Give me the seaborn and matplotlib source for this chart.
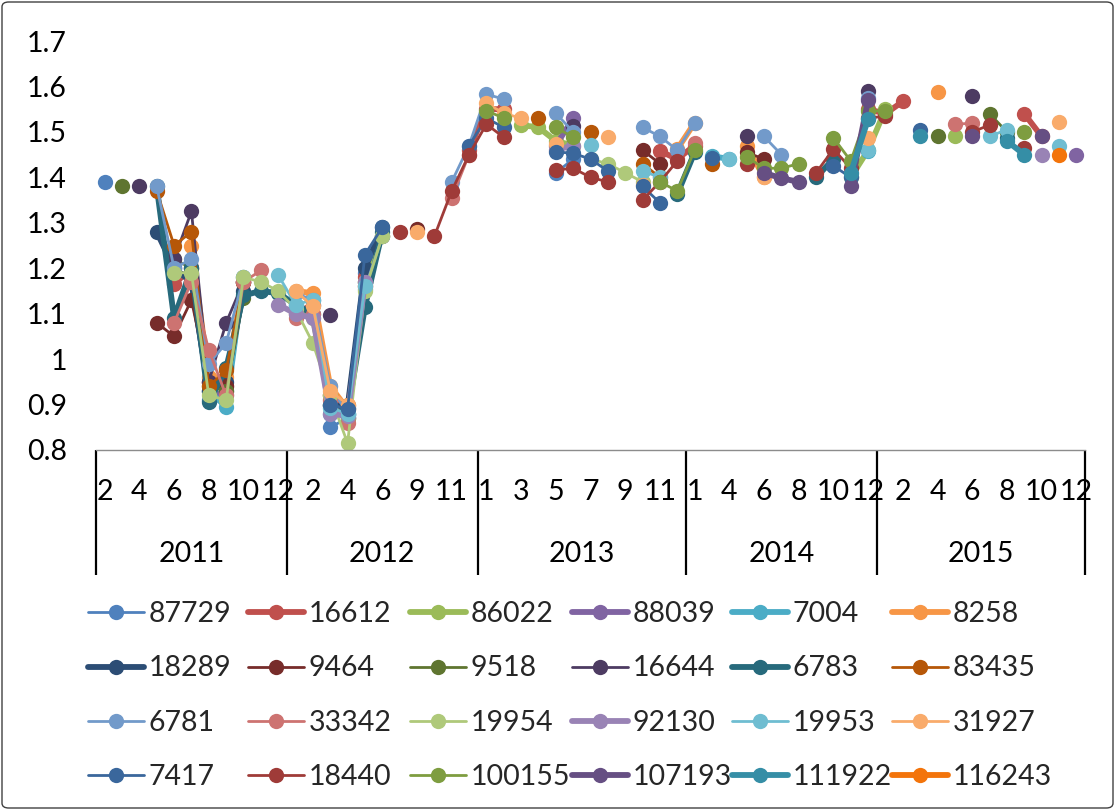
import numpy as np
import pandas as pd
import matplotlib
matplotlib.use("Agg")
import matplotlib.pyplot as plt
import seaborn as sns
import colorsys
from matplotlib.lines import Line2D
from matplotlib.patches import FancyBboxPatch
import matplotlib.colors as mcolors

_ = np.nan

# ---------------- category axis ----------------
years = [2011, 2012, 2013, 2014, 2015]
months_2011 = [2, 3, 4, 5, 6, 7, 8, 9, 10, 11, 12]
months_2012 = [1, 2, 3, 4, 5, 6, 7, 9, 10, 11, 12]
months_2013 = [1, 2, 3, 4, 5, 6, 7, 8, 9, 10, 11, 12]
months_2014 = [1, 3, 4, 5, 6, 7, 8, 9, 10, 11, 12]
months_2015 = [1, 2, 3, 4, 5, 6, 7, 8, 9, 10, 11, 12]
months_by_year = [months_2011, months_2012, months_2013, months_2014, months_2015]

# ---------------- series values (per year blocks) ----------------
s_87729 = ([1.39, _, _, _, _, 1.18, 0.91, 0.93, 1.17, _, _]
           + [_, 1.12, 0.85, 0.87, 1.19, _, _, _, _, _, _]
           + [_, _, _, _, 1.41, 1.44, _, _, _, _, _, _]
           + [_] * 11 + [_] * 12)
s_16612 = ([_, _, _, _, 1.165, 1.20, 0.95, 0.94, 1.17, _, _]
           + [1.10, 1.12, 0.92, 0.87, 1.18, 1.27, _, _, _, _, 1.46]
           + [1.55, 1.55, _, _, _, _, _, _, _, _, 1.458, 1.44]
           + [1.47, _, _, _, _, _, _, _, _, _, 1.55]
           + [1.54, 1.567, _, _, _, _, _, _, 1.54, 1.49, _, _])
s_86022 = ([_] * 11
           + [1.11, 1.09, 0.90, 0.87, 1.17, 1.27, _, _, _, _, _]
           + [_, _, 1.515, 1.51, 1.48, 1.47, _, _, _, _, _, _]
           + [_, _, _, _, _, _, _, _, _, 1.40, 1.46]
           + [1.55, _, _, _, 1.49, _, _, _, _, _, _, _])
s_88039 = ([_, _, _, _, 1.20, 1.17, 0.93, 0.92, 1.17, _, _]
           + [_] * 11
           + [_, _, _, _, 1.47, 1.53, _, _, _, _, _, _]
           + [_] * 11
           + [_] * 11 + [1.45])
s_7004 = ([_, _, _, _, _, _, 0.93, 0.895, 1.18, _, _]
          + [_, 1.13, 0.88, 0.88, 1.17, _, _, _, _, _, _]
          + [_] * 12
          + [_, 1.447, 1.44, _, _, _, _, _, _, _, 1.458]
          + [_] * 12)
s_8258 = ([_, _, _, _, _, 1.25, 0.96, 0.96, 1.17, _, _]
          + [1.15, 1.145, 0.94, 0.89, 1.17, _, _, _, _, _, _]
          + [_] * 11 + [1.462]
          + [1.52, _, _, 1.47, 1.40, _, _, _, _, _, _]
          + [_, _, _, 1.587, _, _, _, _, _, _, _, _])
s_18289 = ([_, _, _, 1.28, 1.20, 1.17, 0.93, 0.95, 1.15, _, _]
           + [_, _, 0.90, 0.893, 1.20, 1.29, _, _, _, _, _]
           + [_] * 12 + [_] * 11 + [_] * 12)
s_9464 = ([_, _, _, 1.08, 1.05, 1.13, 0.95, 0.94, _, _, _]
          + [_, _, _, _, _, _, _, 1.287, _, _, _]
          + [_, _, _, _, _, _, _, _, _, 1.46, 1.43, _]
          + [_, _, _, 1.455, 1.44, _, _, _, _, _, _]
          + [_] * 12)
s_9518 = ([_, 1.38, _, _, 1.22, 1.20, 0.94, 0.93, 1.135, _, _]
          + [_] * 11 + [_] * 12 + [_] * 11
          + [_, _, _, 1.49, _, _, 1.54, 1.50, _, _, _, _])
s_16644 = ([_, _, 1.38, _, 1.22, 1.325, 0.95, 1.08, 1.17, _, _]
           + [_, _, 1.098, _, _, _, _, _, _, _, _]
           + [_, _, _, _, _, 1.512, _, _, _, _, _, _]
           + [_, _, _, 1.49, _, _, _, _, _, _, 1.59]
           + [_, _, _, _, _, 1.578, _, _, _, _, _, _])
s_6783 = ([_, _, _, 1.38, 1.09, 1.20, 0.905, 0.98, 1.14, 1.15, 1.145]
          + [1.12, 1.10, 0.90, 0.88, 1.115, 1.28, _, _, _, _, _]
          + [_] * 11 + [1.363]
          + [1.455, _, _, _, _, _, _, 1.40, 1.44, _, _]
          + [_, _, _, _, _, _, _, 1.487, _, _, _, _])
s_83435 = ([_, _, _, 1.37, 1.25, 1.28, 0.94, 0.975, 1.17, _, _]
           + [_, _, 0.92, 0.90, 1.16, _, _, _, _, _, _]
           + [_, _, _, 1.53, _, _, 1.50, _, _, 1.43, 1.40, _]
           + [_, 1.43, _, _, _, _, _, _, _, _, _]
           + [_] * 12)
s_6781 = ([_, _, _, 1.38, 1.20, 1.22, 0.99, 1.035, 1.18, _, _]
          + [1.145, 1.13, 0.94, 0.88, 1.155, 1.27, _, _, _, 1.39, 1.47]
          + [1.583, 1.572, _, _, 1.541, 1.50, _, _, _, 1.51, 1.49, 1.46]
          + [1.52, _, _, _, 1.49, 1.45, _, _, _, _, 1.574]
          + [_] * 12)
s_33342 = ([_, _, _, _, 1.08, 1.17, 1.02, 0.92, 1.17, 1.195, _]
           + [1.09, 1.10, 0.91, 0.86, 1.16, _, _, _, _, 1.355, 1.45]
           + [_] * 12
           + [1.476, _, _, _, _, _, _, _, _, _, _]
           + [_, _, _, _, 1.517, 1.519, _, _, _, _, _, _])
s_19954 = ([_, _, _, _, 1.19, 1.19, 0.92, 0.91, 1.18, 1.17, 1.15]
           + [1.11, 1.035, 0.92, 0.815, 1.15, 1.27, _, _, _, _, _]
           + [_, _, _, _, _, _, 1.44, 1.43, 1.41, 1.39, _, _]
           + [_] * 11 + [_] * 12)
s_92130 = ([_] * 10 + [1.12]
           + [1.10, 1.09, 0.88, 0.875, 1.17, _, _, _, _, _, _]
           + [_, _, _, _, 1.46, 1.47, _, _, _, _, _, _]
           + [_] * 11
           + [_] * 9 + [1.45, _, _])
s_19953 = ([_] * 10 + [1.185]
           + [1.12, 1.13, 0.893, 0.88, 1.16, _, _, _, _, _, _]
           + [_, _, _, _, _, _, 1.471, _, _, 1.414, 1.40, _]
           + [_, _, 1.44, _, _, _, _, _, _, _, 1.46]
           + [_, _, _, _, _, _, 1.49, 1.505, _, _, 1.468, _])
s_31927 = ([_] * 11
           + [1.15, 1.116, 0.93, 0.90, _, _, _, 1.28, _, _, _]
           + [1.563, 1.541, 1.53, _, 1.473, _, _, 1.488, _, 1.383, _, _]
           + [_, _, _, _, 1.40, _, _, _, _, _, 1.487]
           + [_] * 10 + [1.522, _])
s_7417 = ([_] * 11
          + [_, _, 0.90, 0.89, 1.23, 1.29, _, _, _, _, 1.47]
          + [1.53, 1.51, _, _, 1.456, 1.453, 1.44, 1.414, _, 1.38, 1.344, _]
          + [_, 1.443, _, _, _, _, _, _, 1.425, 1.40, _]
          + [_, _, 1.504, _, _, _, _, _, _, _, _, _])
s_18440 = ([_] * 11
           + [_, _, _, _, _, _, 1.28, _, 1.27, 1.37, 1.45]
           + [1.517, 1.488, _, _, 1.416, 1.42, 1.40, 1.39, _, 1.35, 1.39, 1.436]
           + [_, _, _, 1.43, _, _, _, 1.41, 1.462, 1.42, 1.53]
           + [1.535, _, _, _, _, 1.50, 1.515, _, 1.465, _, _, _])
s_100155 = ([_] * 11 + [_] * 11
            + [1.547, 1.53, _, _, 1.51, 1.488, _, _, _, _, 1.39, 1.37]
            + [1.46, _, _, 1.445, 1.42, 1.42, 1.43, _, 1.487, 1.436, 1.545]
            + [1.547, _, _, _, _, _, _, _, 1.50, _, _, _])
s_107193 = ([_] * 11 + [_] * 11 + [_] * 12
            + [_, _, _, _, 1.41, 1.398, 1.39, _, _, 1.38, 1.57]
            + [_, _, _, _, _, 1.49, _, _, _, 1.49, _, _])
s_111922 = ([_] * 11 + [_] * 11 + [_] * 12
            + [_] * 9 + [1.41, 1.528]
            + [_, _, 1.49, _, _, _, _, 1.48, 1.45, _, _, _])
s_116243 = ([_] * 11 + [_] * 11 + [_] * 12 + [_] * 11
            + [_] * 10 + [1.45, _])

series_names = ["87729", "16612", "86022", "88039", "7004", "8258",
                "18289", "9464", "9518", "16644", "6783", "83435",
                "6781", "33342", "19954", "92130", "19953", "31927",
                "7417", "18440", "100155", "107193", "111922", "116243"]
series_values = [s_87729, s_16612, s_86022, s_88039, s_7004, s_8258,
                 s_18289, s_9464, s_9518, s_16644, s_6783, s_83435,
                 s_6781, s_33342, s_19954, s_92130, s_19953, s_31927,
                 s_7417, s_18440, s_100155, s_107193, s_111922, s_116243]
thick_series = {"16612", "86022", "88039", "7004", "8258", "18289", "6783",
                "92130", "107193", "111922", "116243"}

n_cat = sum(len(m) for m in months_by_year)
for v in series_values:
    assert len(v) == n_cat, len(v)

# ---------------- colours (Office theme with shades/tints) ----------------
accents = ["#4F81BD", "#C0504D", "#9BBB59", "#8064A2", "#4BACC6", "#F79646"]
variants = [(1.0, 0.0), (0.6, 0.0), (0.8, 0.2), (0.8, 0.0)]


def lum(hexc, mod, off):
    r, g, b = mcolors.to_rgb(hexc)
    h, l, s = colorsys.rgb_to_hls(r, g, b)
    l = min(1.0, l * mod + off)
    return colorsys.hls_to_rgb(h, l, s)


colors = {}
for k, name in enumerate(series_names):
    mod, off = variants[k // 6]
    colors[name] = lum(accents[k % 6], mod, off)

LW_THICK, LW_THIN, MS = 4.2, 2.0, 11
widths = {n: (LW_THICK if n in thick_series else LW_THIN) for n in series_names}

# ---------------- long table with runs (gaps break lines) ----------------
rows = []
for name, vals in zip(series_names, series_values):
    run, prev_gap = 0, True
    for i, v in enumerate(vals):
        if np.isnan(v):
            prev_gap = True
            continue
        if prev_gap:
            run += 1
            prev_gap = False
        rows.append({"x": i, "y": v, "series": name, "run": f"{name}-{run}"})
df = pd.DataFrame(rows)

# ---------------- figure ----------------
sns.set_theme(style="white")
plt.rcParams["font.family"] = ["Lato", "DejaVu Sans"]

W, H = 1115, 810
fig = plt.figure(figsize=(W / 100, H / 100), dpi=100)
ax_l, ax_r, ax_t, ax_b = 96, 1085, 41, 450
ax = fig.add_axes([ax_l / W, 1 - ax_b / H, (ax_r - ax_l) / W, (ax_b - ax_t) / H])

sns.lineplot(data=df, x="x", y="y", hue="series", hue_order=series_names,
             palette=colors, size="series", size_order=series_names,
             sizes=widths, units="run", estimator=None, marker="o",
             markersize=MS, markeredgewidth=0, legend=False, ax=ax)

ax.set_xlim(-0.5, n_cat - 0.5)
ax.set_ylim(0.8, 1.7)
ax.set_xlabel("")
ax.set_ylabel("")
yt = np.round(np.arange(0.8, 1.71, 0.1), 1)
ax.set_yticks(yt)
ax.set_yticklabels([f"{v:g}" for v in yt])
ax.tick_params(axis="y", length=0, pad=21, labelsize=20.5, labelcolor="black")

# month tick labels: every other category
month_flat = [m for ms in months_by_year for m in ms]
ax.set_xticks(range(n_cat))
ax.set_xticklabels([str(m) if i % 2 == 0 else "" for i, m in enumerate(month_flat)])
ax.tick_params(axis="x", length=0, pad=21, labelsize=20.5, labelcolor="black")

for s in ["top", "right", "left"]:
    ax.spines[s].set_visible(False)
ax.spines["bottom"].set_color("#8c8c8c")
ax.spines["bottom"].set_linewidth(1.0)
ax.grid(False)

# year level
trans = ax.get_xaxis_transform()
sep_bottom = -(575 - ax_b) / (ax_b - ax_t)
year_base = -(562 - ax_b) / (ax_b - ax_t)
start = 0
bounds = [-0.5]
for yr, ms in zip(years, months_by_year):
    end = start + len(ms)
    ax.text((start + end - 1) / 2, year_base, str(yr), transform=trans,
            ha="center", va="baseline", fontsize=20.5, color="black")
    bounds.append(end - 0.5)
    start = end
for b in bounds:
    ax.plot([b, b], [0, sep_bottom], transform=trans, color="black",
            lw=1.6, clip_on=False, solid_capstyle="butt")

# legend: 6 fixed columns, row-major order
col_x = [88, 248, 410, 572, 732, 892]
leg_top = 601
for j, cx in enumerate(col_x):
    names = [series_names[j + 6 * r] for r in range(4)]
    handles = [Line2D([], [], color=colors[n], lw=widths[n], marker="o",
                      markersize=MS, markeredgewidth=0) for n in names]
    fig.legend(handles, names, loc="upper left",
               bbox_to_anchor=(cx / W, 1 - leg_top / H),
               bbox_transform=fig.transFigure, frameon=False, fontsize=20.5,
               handlelength=1.95, handletextpad=0.18, labelspacing=1.0,
               borderpad=0, borderaxespad=0, numpoints=1)

# outer chart border
border = FancyBboxPatch((2 / W, 2 / H), 1 - 4 / W, 1 - 4 / H,
                        boxstyle="round,pad=0,rounding_size=0.006",
                        transform=fig.transFigure, fill=False,
                        edgecolor="#404040", linewidth=1.0)
fig.patches.append(border)

fig.savefig("out.png", dpi=100)
